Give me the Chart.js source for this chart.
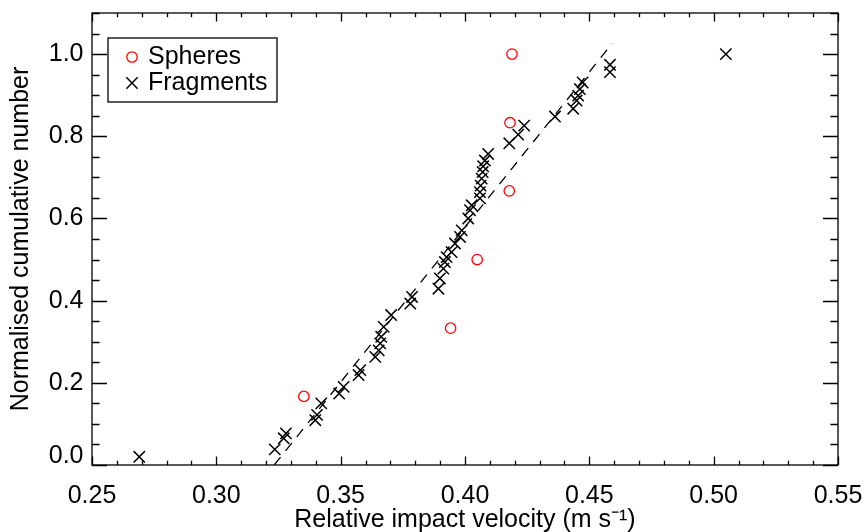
<!DOCTYPE html>
<html>
<head>
<meta charset="utf-8">
<script src="https://cdn.jsdelivr.net/npm/chart.js@4/dist/chart.umd.min.js"></script>
<style>
  html, body { margin: 0; padding: 0; background: #ffffff; }
  #wrap { width: 865px; height: 532px; }
</style>
</head>
<body>
<div id="wrap"><canvas id="c" width="865" height="532"></canvas></div>
<script>
// ---- data ----
const SPHERES_X = [0.3352, 0.3942, 0.4049, 0.4178, 0.4181, 0.4189];
const SPHERES_Y = [0.167, 0.333, 0.500, 0.667, 0.833, 1.000];

const FRAGMENTS_X = [0.2690, 0.3235, 0.3271, 0.3280, 0.3398, 0.3405, 0.3422, 0.3494, 0.3512, 0.3572,
                     0.3579, 0.3639, 0.3653, 0.3659, 0.3663, 0.3673, 0.3703, 0.3780, 0.3787, 0.3893,
                     0.3899, 0.3913, 0.3919, 0.3926, 0.3946, 0.3960, 0.3980, 0.3987, 0.4013, 0.4020,
                     0.4027, 0.4060, 0.4060, 0.4063, 0.4067, 0.4071, 0.4073, 0.4080, 0.4093, 0.4178,
                     0.4214, 0.4238, 0.4362, 0.4435, 0.4449, 0.4455, 0.4462, 0.4473, 0.4583, 0.4583,
                     0.5049];
const FRAGMENTS_Y = [0.020, 0.038, 0.065, 0.077, 0.109, 0.122, 0.150, 0.174, 0.190, 0.219,
                     0.231, 0.263, 0.279, 0.296, 0.312, 0.336, 0.365, 0.393, 0.409, 0.429,
                     0.454, 0.478, 0.494, 0.506, 0.518, 0.539, 0.555, 0.571, 0.600, 0.620,
                     0.632, 0.649, 0.664, 0.680, 0.697, 0.713, 0.727, 0.741, 0.757, 0.783,
                     0.804, 0.826, 0.848, 0.867, 0.887, 0.899, 0.915, 0.931, 0.956, 0.974,
                     1.000];

const FIT_X = [0.3233, 0.4592];
const FIT_Y = [0.000, 1.026];

const X_TICKS = [0.25, 0.30, 0.35, 0.40, 0.45, 0.50, 0.55];
const Y_TICKS = [0.0, 0.2, 0.4, 0.6, 0.8, 1.0];
const X_LABEL = 'Relative impact velocity (m s\u207B\u00B9)';
const Y_LABEL = 'Normalised cumulative number';
// ---------------------------------------

const FONT = "'Liberation Sans', Arial, Helvetica, sans-serif";
const FS = 25;
const toPts = (xs, ys) => xs.map((x, i) => ({ x: x, y: ys[i] }));

const framePlugin = {
  id: 'frameTicks',
  afterDatasetsDraw(chart) {
    const { ctx, chartArea: a, scales } = chart;
    const xs = scales.x, ys = scales.y;
    ctx.save();
    ctx.strokeStyle = '#000';
    ctx.lineWidth = 1.3;
    ctx.beginPath();
    for (let i = 0; i <= 30; i++) {
      const v = 0.25 + i * 0.01;
      const px = Math.round(xs.getPixelForValue(v)) + 0.5;
      const len = (i % 5 === 0) ? 8.5 : 4.3;
      ctx.moveTo(px, a.bottom); ctx.lineTo(px, a.bottom - len);
      ctx.moveTo(px, a.top); ctx.lineTo(px, a.top + len);
    }
    for (let i = 0; i <= 22; i++) {
      const v = i * 0.05;
      const py = Math.round(ys.getPixelForValue(v)) + 0.5;
      const len = (i % 4 === 0 && i <= 20) ? 15 : 7.6;
      ctx.moveTo(a.left, py); ctx.lineTo(a.left + len, py);
      ctx.moveTo(a.right, py); ctx.lineTo(a.right - len, py);
    }
    ctx.stroke();
    ctx.strokeRect(a.left, a.top, a.right - a.left, a.bottom - a.top);
    ctx.restore();
  },
  afterDraw(chart) {
    const { ctx, chartArea: a } = chart;
    const x0 = a.left + 16, y0 = a.top + 25, w = 169, h = 64;
    ctx.save();
    ctx.strokeStyle = '#000';
    ctx.lineWidth = 1.3;
    ctx.strokeRect(x0, y0, w, h);
    const order = [2, 1];
    order.forEach((di, row) => {
      const ds = chart.data.datasets[di];
      const mx = x0 + 24, my = y0 + 19 + row * 26;
      ctx.strokeStyle = ds.borderColor;
      ctx.lineWidth = ds.borderWidth;
      ctx.beginPath();
      if (ds.pointStyle === 'circle') {
        ctx.arc(mx, my, ds.pointRadius, 0, Math.PI * 2);
      } else {
        const o = ds.pointRadius * Math.SQRT1_2;
        ctx.moveTo(mx - o, my - o); ctx.lineTo(mx + o, my + o);
        ctx.moveTo(mx - o, my + o); ctx.lineTo(mx + o, my - o);
      }
      ctx.stroke();
      ctx.fillStyle = '#000';
      ctx.font = FS + 'px ' + FONT;
      ctx.textAlign = 'left';
      ctx.textBaseline = 'alphabetic';
      ctx.fillText(ds.label, x0 + 40, y0 + 25.5 + row * 26);
    });
    ctx.restore();
  }
};

new Chart(document.getElementById('c'), {
  type: 'scatter',
  data: {
    datasets: [
      {
        label: 'Fit',
        data: toPts(FIT_X, FIT_Y),
        showLine: true,
        pointRadius: 0,
        borderColor: '#000000',
        borderWidth: 1.3,
        borderDash: [10, 8],
        fill: false,
        order: 3
      },
      {
        label: 'Fragments',
        data: toPts(FRAGMENTS_X, FRAGMENTS_Y),
        pointStyle: 'crossRot',
        pointRadius: 8,
        borderColor: '#000000',
        backgroundColor: '#000000',
        borderWidth: 1.5,
        order: 2
      },
      {
        label: 'Spheres',
        data: toPts(SPHERES_X, SPHERES_Y),
        pointStyle: 'circle',
        pointRadius: 5.2,
        borderColor: '#ff0000',
        backgroundColor: 'rgba(0,0,0,0)',
        borderWidth: 1.3,
        order: 1
      }
    ]
  },
  options: {
    responsive: false,
    animation: false,
    devicePixelRatio: 1,
    layout: { padding: { left: 0, right: 27, top: 13, bottom: 0 } },
    plugins: { legend: { display: false }, tooltip: { enabled: false } },
    scales: {
      x: {
        type: 'linear',
        min: 0.25,
        max: 0.55,
        afterBuildTicks: (s) => { s.ticks = X_TICKS.map(v => ({ value: v })); },
        afterFit: (s) => { s.height = 67; s.paddingLeft = 0; s.paddingRight = 0; s.paddingTop = 0; s.paddingBottom = 0; },
        grid: { display: false, drawTicks: false },
        border: { display: false },
        ticks: {
          autoSkip: false, maxRotation: 0, minRotation: 0,
          padding: 18.5,
          color: '#000',
          font: { family: FONT, size: FS, lineHeight: 1 },
          callback: (v) => Number(v).toFixed(2)
        },
        title: {
          display: true, text: X_LABEL, color: '#000',
          font: { family: FONT, size: FS, lineHeight: 1 },
          padding: { top: 0, bottom: -0.5 }
        }
      },
      y: {
        type: 'linear',
        min: 0,
        max: 1.1,
        afterBuildTicks: (s) => { s.ticks = Y_TICKS.map(v => ({ value: v })); },
        afterFit: (s) => { s.width = 92; s.paddingLeft = 0; s.paddingRight = 0; s.paddingTop = 0; s.paddingBottom = 0; },
        grid: { display: false, drawTicks: false },
        border: { display: false },
        ticks: {
          autoSkip: false,
          padding: 8.5,
          color: '#000',
          font: { family: FONT, size: FS, lineHeight: 0.72 },
          callback: (v) => (Math.abs(v) < 1e-9 ? ['0.0', ''] : Number(v).toFixed(1))
        },
        title: {
          display: true, text: Y_LABEL, color: '#000',
          font: { family: FONT, size: FS, lineHeight: 1 },
          padding: { top: 8.5, bottom: 0 }
        }
      }
    }
  },
  plugins: [framePlugin]
});
</script>
</body>
</html>
